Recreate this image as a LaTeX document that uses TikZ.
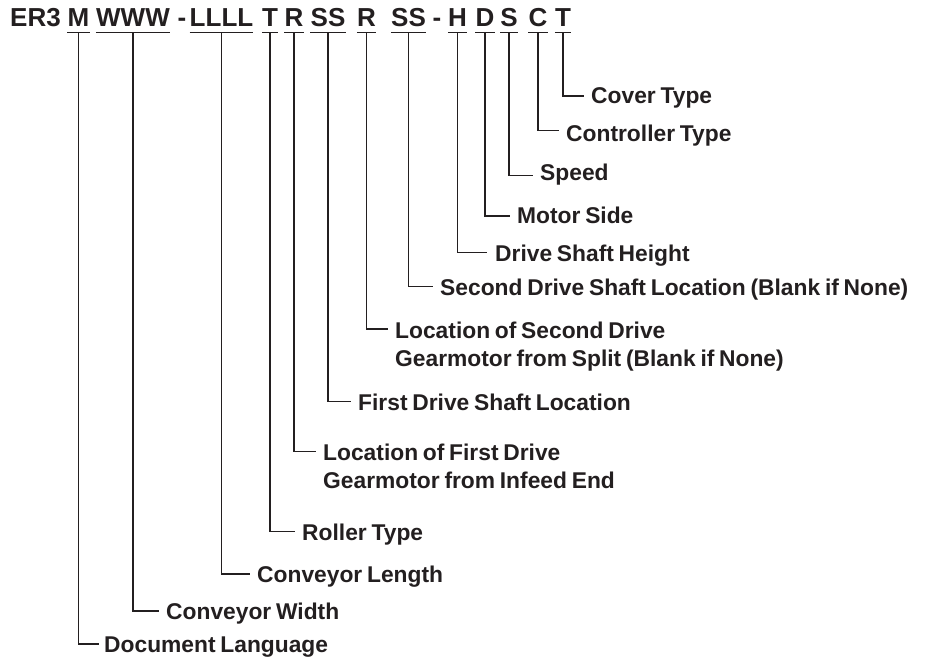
\documentclass[tikz,border=0pt]{standalone}
\usepackage{fontspec}
\setmainfont{Liberation Sans}[WordSpace=0.75]
\definecolor{ink}{HTML}{231F20}
\begin{document}
\begin{tikzpicture}[x=1pt,y=-1pt,
  code/.style={font=\fontsize{26}{26}\selectfont\bfseries, inner sep=0pt, anchor=base, text=ink},
  lbl/.style={font=\fontsize{22.8}{27.5}\selectfont\bfseries, inner sep=0pt, anchor=base west, align=left, text=ink},
  ln/.style={draw=ink, line width=1.3pt}]
\useasboundingbox (0,0) rectangle (925,658);
% code row
\node[code, anchor=base west] (er3) at (10,27) {ER3};
\node[code] (cM) at (78.5,27) {M};
\node[code] (cW) at (133,27) {WWW};
\node[code] (d1) at (182,27) {-};
\node[code] (cL) at (221.5,27) {LLLL};
\node[code] (cT) at (270,27) {T};
\node[code] (cR) at (294,27) {R};
\node[code] (cS) at (328,27) {SS};
\node[code] (cR2) at (366.5,27) {R};
\node[code] (cS2) at (408.5,27) {SS};
\node[code] (d2) at (437,27) {-};
\node[code] (cH) at (457.5,27) {H};
\node[code] (cD) at (485,27) {D};
\node[code] (cSp) at (509,27) {S};
\node[code] (cC) at (538,27) {C};
\node[code] (cT2) at (563,27) {T};
% labels
\node[lbl] (lCover) at (591,103.5) {Cover Type};
\node[lbl] (lCtrl) at (566,141) {Controller Type};
\node[lbl] (lSpeed) at (540,180) {Speed};
\node[lbl] (lMotor) at (517,223) {Motor Side};
\node[lbl] (lDSH) at (495,261) {Drive Shaft Height};
\node[lbl] (lSDSL) at (440,295) {Second Drive Shaft Location (Blank if None)};
\node[lbl] (lLSD) at (395,366) {Location of Second Drive\\Gearmotor from Split (Blank if None)};
\node[lbl] (lFDSL) at (358,410) {First Drive Shaft Location};
\node[lbl] (lLFD) at (323,488) {Location of First Drive\\Gearmotor from Infeed End};
\node[lbl] (lRoller) at (302,540) {Roller Type};
\node[lbl] (lCL) at (257,582) {Conveyor Length};
\node[lbl] (lCW) at (166,619) {Conveyor Width};
\node[lbl] (lDL) at (104,652) {Document Language};
% connector ends
\coordinate (eCover) at (584,96);
\coordinate (eCtrl) at (559,130.7);
\coordinate (eSpeed) at (533,175.7);
\coordinate (eMotor) at (510,216);
\coordinate (eDSH) at (487,252.7);
\coordinate (eSDSL) at (433,286.7);
\coordinate (eLSD) at (388,329);
\coordinate (eFDSL) at (351,401.7);
\coordinate (eLFD) at (316,451.7);
\coordinate (eRoller) at (295,531.7);
\coordinate (eCL) at (250,574);
\coordinate (eCW) at (159,611);
\coordinate (eDL) at (99,644);
% underlines and connectors
\foreach \n/\e in {cM/eDL,cW/eCW,cL/eCL,cT/eRoller,cR/eLFD,cS/eFDSL,cR2/eLSD,cS2/eSDSL,cH/eDSH,cD/eMotor,cSp/eSpeed,cC/eCtrl,cT2/eCover}{
  \draw[ln] ([yshift=-5pt]\n.south west) -- ([yshift=-5pt]\n.south east);
  \draw[ln] ([yshift=-5pt]\n.south) |- (\e);
}
\end{tikzpicture}
\end{document}
